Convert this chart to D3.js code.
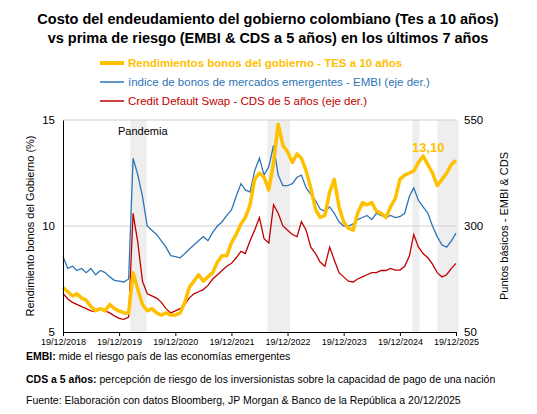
<!DOCTYPE html>
<html><head><meta charset="utf-8">
<script src="https://cdn.jsdelivr.net/npm/d3@7"></script>
<style>body{margin:0;background:#fff;font-family:Arial,"Liberation Sans",sans-serif}</style>
</head><body><svg id="c" width="537" height="414"></svg>
<script>
// monthly values, Dec 2018 .. Dec 2025
const tes = [7.1,
  6.9,6.7,6.8,6.6,6.5,6.2,6.0,6.1,6.0,6.3,6.1,6.0,
  5.9,5.9,7.8,7.0,6.3,6.0,6.1,5.9,5.8,5.9,5.8,5.8,
  5.9,6.4,7.1,7.4,7.7,7.4,7.6,7.8,8.3,8.6,8.6,9.2,
  9.6,10.1,10.4,11.0,12.2,12.5,12.3,11.7,13.0,14.8,13.8,13.5,
  13.0,13.4,13.2,12.6,11.8,10.8,10.4,10.5,11.6,12.2,10.9,10.2,
  9.9,9.8,10.6,11.1,11.0,11.1,10.7,10.6,10.4,10.9,11.3,12.2,
  12.4,12.5,12.6,13.0,13.3,12.9,12.5,11.9,12.2,12.5,12.9,13.1];
const embi = [228,
  200,205,195,200,190,200,185,195,190,180,172,170,
  168,175,460,420,370,300,290,280,265,250,230,228,
  225,235,245,255,265,275,265,285,300,310,325,338,
  370,400,385,380,430,460,420,440,490,420,395,395,
  400,415,420,390,375,360,340,335,345,330,310,300,
  300,305,315,320,325,315,330,325,320,325,320,322,
  330,370,390,360,345,330,300,275,255,250,265,283];
const cds = [141,
  128,120,115,110,105,100,98,105,100,95,88,82,
  80,85,330,260,170,140,135,130,120,105,95,100,
  105,115,130,140,145,150,160,175,185,195,205,212,
  225,240,235,265,290,320,270,260,350,330,300,290,
  280,275,310,290,250,235,215,205,250,220,190,180,
  170,168,175,180,185,190,190,195,195,200,196,196,
  205,230,280,250,235,225,210,190,180,185,200,212];
const tickLabels = ["19/12/2018","19/12/2019","19/12/2020","19/12/2021","19/12/2022","19/12/2023","19/12/2024","19/12/2025"];
const bands = [["2020-03-01","2020-06-15"],["2022-08-10","2023-01-05"],["2025-03-10","2025-04-25"],["2025-08-20","2026-01-05"]];

const svg = d3.select("#c");
const start = new Date(2018, 11, 19);
const dates = tes.map((_, i) => d3.timeMonth.offset(start, i));
const x = d3.scaleTime().domain([start, new Date(2025, 11, 19)]).range([63, 456]);
const yL = d3.scaleLinear().domain([5, 15]).range([332, 120]);
const yR = d3.scaleLinear().domain([50, 550]).range([332, 120]);

svg.append("text").attr("x", 268).attr("y", 24).attr("text-anchor", "middle").attr("font-size", 14.5).attr("font-weight", "bold")
  .text("Costo del endeudamiento del gobierno colombiano (Tes a 10 años)");
svg.append("text").attr("x", 268).attr("y", 43).attr("text-anchor", "middle").attr("font-size", 14.5).attr("font-weight", "bold")
  .text("vs prima de riesgo (EMBI & CDS a 5 años) en los últimos 7 años");

const leg = [["Rendimientos bonos del gobierno - TES a 10 años", "#FFC000", 4, true],
  ["índice de bonos de mercados emergentes - EMBI (eje der.)", "#2E75B6", 1.5, false],
  ["Credit Default Swap - CDS de 5 años (eje der.)", "#C00000", 1.5, false]];
leg.forEach((d, i) => {
  const yy = 63 + i * 19;
  svg.append("line").attr("x1", 100).attr("x2", 124).attr("y1", yy).attr("y2", yy).attr("stroke", d[1]).attr("stroke-width", d[2]);
  svg.append("text").attr("x", 128).attr("y", yy + 4).attr("font-size", 11.5).attr("fill", d[1]).attr("font-weight", d[3] ? "bold" : null).text(d[0]);
});

bands.forEach(b => {
  const x0 = x(new Date(b[0])), x1 = Math.min(x(new Date(b[1])), 460);
  svg.append("rect").attr("x", x0).attr("y", 120).attr("width", x1 - x0).attr("height", 212).attr("fill", "#eeeeee");
});
svg.append("line").attr("x1", 63).attr("x2", 456).attr("y1", yL(10)).attr("y2", yL(10)).attr("stroke", "#d0d0d0");
svg.append("line").attr("x1", 63).attr("x2", 456).attr("y1", 120).attr("y2", 120).attr("stroke", "#d0d0d0");

const lineR = v => d3.line().x((d, i) => x(dates[i])).y(d => yR(d))(v);
svg.append("path").attr("d", lineR(embi)).attr("fill", "none").attr("stroke", "#2E75B6").attr("stroke-width", 1.3);
svg.append("path").attr("d", lineR(cds)).attr("fill", "none").attr("stroke", "#C00000").attr("stroke-width", 1.3);
svg.append("path").attr("d", d3.line().x((d, i) => x(dates[i])).y(d => yL(d))(tes)).attr("fill", "none").attr("stroke", "#FFC000").attr("stroke-width", 3.5).attr("stroke-linejoin", "round");

const xt = tickLabels.map((t, i) => new Date(2018 + i, 11, 19));
svg.append("g").attr("transform", "translate(0,332)")
  .call(d3.axisBottom(x).tickValues(xt).tickFormat((d, i) => tickLabels[i]).tickSize(4))
  .call(g => g.selectAll("text").attr("font-size", 9).attr("font-family", "Arial,Liberation Sans"));
svg.append("g").attr("transform", "translate(63,0)")
  .call(d3.axisLeft(yL).tickValues([5, 10, 15]).tickSize(0).tickPadding(8))
  .call(g => g.select(".domain").attr("stroke", "#000"))
  .call(g => g.selectAll("text").attr("font-size", 11.5).attr("font-family", "Arial,Liberation Sans"));
svg.append("g").attr("transform", "translate(456,0)")
  .call(d3.axisRight(yR).tickValues([50, 300, 550]).tickSize(0).tickPadding(8))
  .call(g => g.select(".domain").remove())
  .call(g => g.selectAll("text").attr("font-size", 11.5).attr("font-family", "Arial,Liberation Sans"));

svg.append("text").attr("transform", "translate(34,226) rotate(-90)").attr("text-anchor", "middle").attr("font-size", 11).text("Rendimiento bonos del Gobierno (%)");
svg.append("text").attr("transform", "translate(508,226) rotate(-90)").attr("text-anchor", "middle").attr("font-size", 11).text("Puntos básicos - EMBI & CDS");
svg.append("text").attr("x", 118).attr("y", 135).attr("font-size", 11).text("Pandemia");
svg.append("text").attr("x", 412).attr("y", 152).attr("font-size", 13).attr("font-weight", "bold").attr("fill", "#FFC000").text("13,10");

const notes = [["EMBI:", " mide el riesgo país de las economías emergentes", 360],
  ["CDS a 5 años:", " percepción de riesgo de los inversionistas sobre la capacidad de pago de una nación", 383],
  ["", "Fuente: Elaboración con datos Bloomberg, JP Morgan & Banco de la República a 20/12/2025", 404]];
notes.forEach(n => {
  const t = svg.append("text").attr("x", 26).attr("y", n[2]).attr("font-size", 10.5);
  t.append("tspan").attr("font-weight", "bold").text(n[0]);
  t.append("tspan").text(n[1]);
});
</script></body></html>
